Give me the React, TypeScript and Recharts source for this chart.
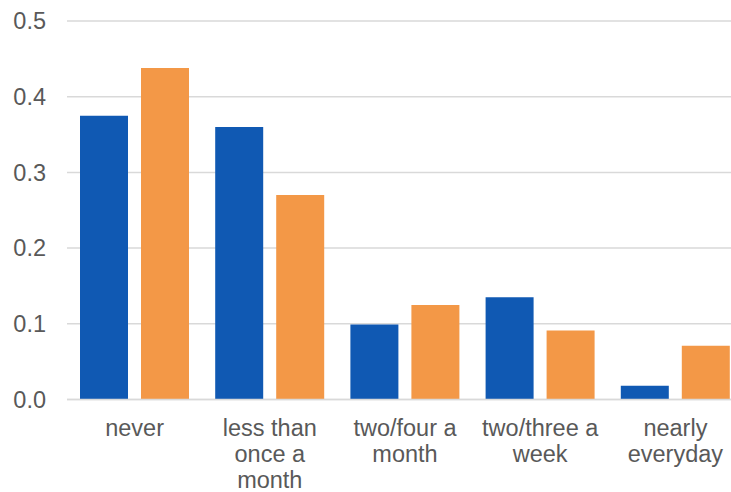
import React from "react";
import { BarChart, Bar, XAxis, YAxis, CartesianGrid } from "recharts";

const categories = [
  "never",
  "less than\nonce a\nmonth",
  "two/four a\nmonth",
  "two/three a\nweek",
  "nearly\neveryday",
];
const seriesA = [0.375, 0.36, 0.099, 0.135, 0.018];
const seriesB = [0.438, 0.27, 0.125, 0.091, 0.071];
const yTicks = [0, 0.1, 0.2, 0.3, 0.4, 0.5];

const data = categories.map((c, i) => ({ cat: c, a: seriesA[i], b: seriesB[i] }));

const FONT = "'Liberation Sans', Arial, sans-serif";

const XTick = (props: any) => {
  const { x, y, payload } = props;
  const lines = String(payload.value).split("\n");
  return (
    <text x={x} y={y + 36} textAnchor="middle" fill="#595959" fontSize={23.5} fontFamily={FONT}>
      {lines.map((l, i) => (
        <tspan key={i} x={x} dy={i === 0 ? 0 : 26}>
          {l}
        </tspan>
      ))}
    </text>
  );
};

export default function App() {
  return (
    <div
      style={{
        position: "fixed",
        left: 0,
        top: 0,
        width: 731,
        height: 492,
        overflow: "hidden",
        background: "#fff",
      }}
    >
      <BarChart
        width={760}
        height={492}
        data={data}
        margin={{ top: 21, right: 17, left: 0, bottom: 0 }}
        barCategoryGap={13}
        barGap={13}
      >
        <CartesianGrid vertical={false} stroke="#d9d9d9" strokeWidth={1.5} />
        <XAxis
          dataKey="cat"
          axisLine={{ stroke: "#d9d9d9", strokeWidth: 1.5 }}
          tickLine={false}
          tickSize={0}
          tickMargin={0}
          height={92.5}
          interval={0}
          tick={<XTick />}
        />
        <YAxis
          width={67}
          domain={[0, 0.5]}
          ticks={yTicks}
          tickFormatter={(v: number) => v.toFixed(1)}
          axisLine={false}
          tickLine={false}
          tickSize={0}
          tickMargin={21}
          tick={{ fill: "#595959", fontSize: 23.5, fontFamily: FONT }}
        />
        <Bar dataKey="a" fill="#1059b3" isAnimationActive={false} />
        <Bar dataKey="b" fill="#f39847" isAnimationActive={false} />
      </BarChart>
    </div>
  );
}
